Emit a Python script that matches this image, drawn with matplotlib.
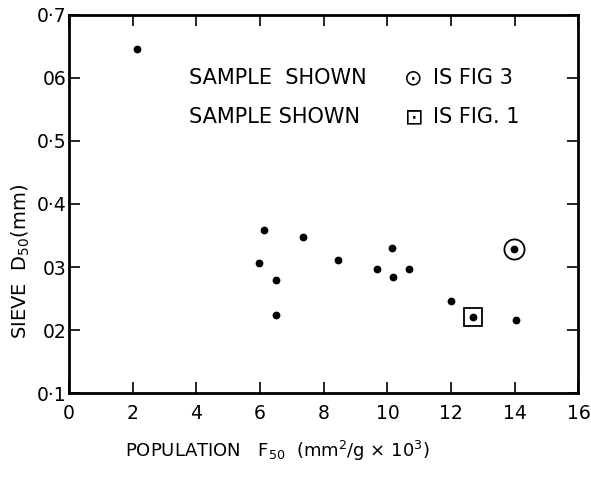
import matplotlib
matplotlib.use("Agg")
import matplotlib.pyplot as plt

# population F50 (mm2/g x 10^3) vs sieve D50 (mm)
f50 = [2.12, 6.11, 7.36, 5.96, 6.50, 6.50, 8.45, 10.15, 9.66, 10.17, 10.69, 13.98, 11.99, 12.70, 14.05]
d50 = [0.646, 0.359, 0.347, 0.307, 0.279, 0.224, 0.311, 0.330, 0.297, 0.284, 0.297, 0.328, 0.246, 0.220, 0.216]

# highlighted samples
fig3_f50, fig3_d50 = [13.98], [0.328]
fig1_f50, fig1_d50 = [12.70], [0.220]

xticks = [0, 2, 4, 6, 8, 10, 12, 14, 16]
yticks = [0.1, 0.2, 0.3, 0.4, 0.5, 0.6, 0.7]
ytick_labels = ["0·1", "02", "03", "0·4", "0·5", "06", "0·7"]

plt.rcParams["font.family"] = ["DejaVu Sans"]

fig = plt.figure(figsize=(5.91, 4.83), dpi=100)
ax = fig.add_axes([0.1168, 0.1863, 0.862, 0.7827])

ax.plot(f50, d50, "o", color="black", markersize=4.6, linestyle="none")
ax.plot(fig3_f50, fig3_d50, "o", markersize=14.5, markerfacecolor="none",
        markeredgecolor="black", markeredgewidth=1.3, linestyle="none")
ax.plot(fig1_f50, fig1_d50, "s", markersize=13.5, markerfacecolor="none",
        markeredgecolor="black", markeredgewidth=1.3, linestyle="none")

ax.set_xlim(0, 16)
ax.set_ylim(0.1, 0.7)
ax.set_xticks(xticks)
ax.set_yticks(yticks)
ax.set_yticklabels(ytick_labels)

for sp in ax.spines.values():
    sp.set_linewidth(2.0)
ax.tick_params(direction="in", length=8, width=1.2, labelsize=13.5,
               top=True, right=True)
ax.tick_params(axis="x", pad=8)
ax.tick_params(axis="y", pad=2)

ax.text(-0.095, 0.347, "SIEVE  D$_{50}$(mm)", rotation=90, transform=ax.transAxes,
        ha="center", va="center", fontsize=14)
ax.text(0.41, -0.152, "POPULATION   F$_{50}$  (mm$^2$/g × 10$^3$)", transform=ax.transAxes,
        ha="center", va="center", fontsize=13)

# key
ax.text(0.236, 0.833, "SAMPLE  SHOWN", transform=ax.transAxes, ha="left", va="center", fontsize=15)
ax.text(0.236, 0.730, "SAMPLE SHOWN", transform=ax.transAxes, ha="left", va="center", fontsize=15)
ax.text(0.675, 0.833, "⊙", transform=ax.transAxes, ha="center", va="center", fontsize=16)
ax.text(0.678, 0.730, "⊡", transform=ax.transAxes, ha="center", va="center", fontsize=16)
ax.text(0.715, 0.833, "IS FIG 3", transform=ax.transAxes, ha="left", va="center", fontsize=15)
ax.text(0.715, 0.730, "IS FIG. 1", transform=ax.transAxes, ha="left", va="center", fontsize=15)

fig.savefig("out.png", dpi=100)
